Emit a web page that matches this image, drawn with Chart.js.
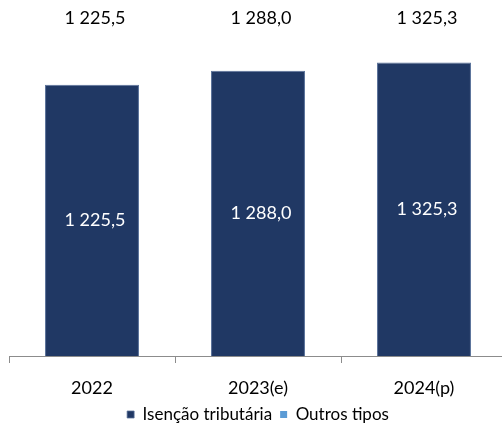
<!DOCTYPE html>
<html>
<head>
<meta charset="utf-8">
<script src="https://cdn.jsdelivr.net/npm/chart.js@4/dist/chart.umd.min.js"></script>
<style>
  html, body { margin: 0; padding: 0; background: #fff; overflow: hidden; }
  #wrap { width: 508px; height: 433px; }
</style>
</head>
<body>
<div id="wrap"><canvas id="grafico"></canvas></div>
<script>
var anos = ["2022", "2023(e)", "2024(p)"];
var isencao = [1225.5, 1288.0, 1325.3];
var outros = [0, 0, 0];
var nomesSeries = ["Isenção tributária", "Outros tipos"];

var fmt = (v) => {
	var s = v.toFixed(1).replace(".", ",");
	var partes = s.split(",");
	partes[0] = partes[0].replace(/\B(?=(\d{3})+(?!\d))/g, " ");
	return partes.join(",");
};

// rotulos: dentro da barra e total no topo
var rotulos = {
	id: "rotulos",
	afterDatasetsDraw(chart) {
		var ctx = chart.ctx;
		var meta = chart.getDatasetMeta(0);
		ctx.save();
		ctx.font = "18px Lato";
		ctx.textAlign = "center";
		ctx.textBaseline = "middle";
		meta.data.forEach((bar, i) => {
			ctx.fillStyle = "#ffffff";
			ctx.fillText(fmt(isencao[i]), bar.x + 3, (bar.y + bar.base) / 2);
			ctx.fillStyle = "#000000";
			ctx.fillText(fmt(isencao[i] + outros[i]), bar.x + 3, 18);
		});
		ctx.restore();
	}
};

Chart.defaults.font.family = "Lato";
Chart.defaults.color = "#000000";

var ctx1 = document.getElementById("grafico").getContext("2d");
var myChart = new Chart(ctx1, {
	type: "bar",
	data: {
		labels: anos,
		datasets: [{
			label: nomesSeries[0],
			data: isencao,
			backgroundColor: "#203864",
			borderColor: "#5a729a",
			borderWidth: { top: 1, left: 1, right: 1, bottom: 0 },
			categoryPercentage: 1,
			barPercentage: 0.566
		}, {
			label: nomesSeries[1],
			data: outros,
			backgroundColor: "#5b9bd5",
			categoryPercentage: 1,
			barPercentage: 0.566
		}]
	},
	options: {
		responsive: true,
		maintainAspectRatio: false,
		animation: false,
		layout: { padding: { top: 46, left: 9, right: 1, bottom: 0 } },
		plugins: {
			legend: {
				position: "bottom",
				labels: {
					boxWidth: 7,
					boxHeight: 7,
					padding: 8,
					font: { size: 17 }
				}
			},
			tooltip: { enabled: false }
		},
		scales: {
			x: {
				stacked: true,
				grid: {
					offset: true,
					drawOnChartArea: false,
					tickLength: 7,
					color: "#8c8c8c"
				},
				border: { color: "#8c8c8c" },
				ticks: { font: { size: 18 }, padding: 14 },
				afterFit: (scale) => { scale.height = 42; }
			},
			y: {
				stacked: true,
				display: false,
				min: 0,
				max: 1400
			}
		}
	},
	plugins: [rotulos]
});
</script>
</body>
</html>
